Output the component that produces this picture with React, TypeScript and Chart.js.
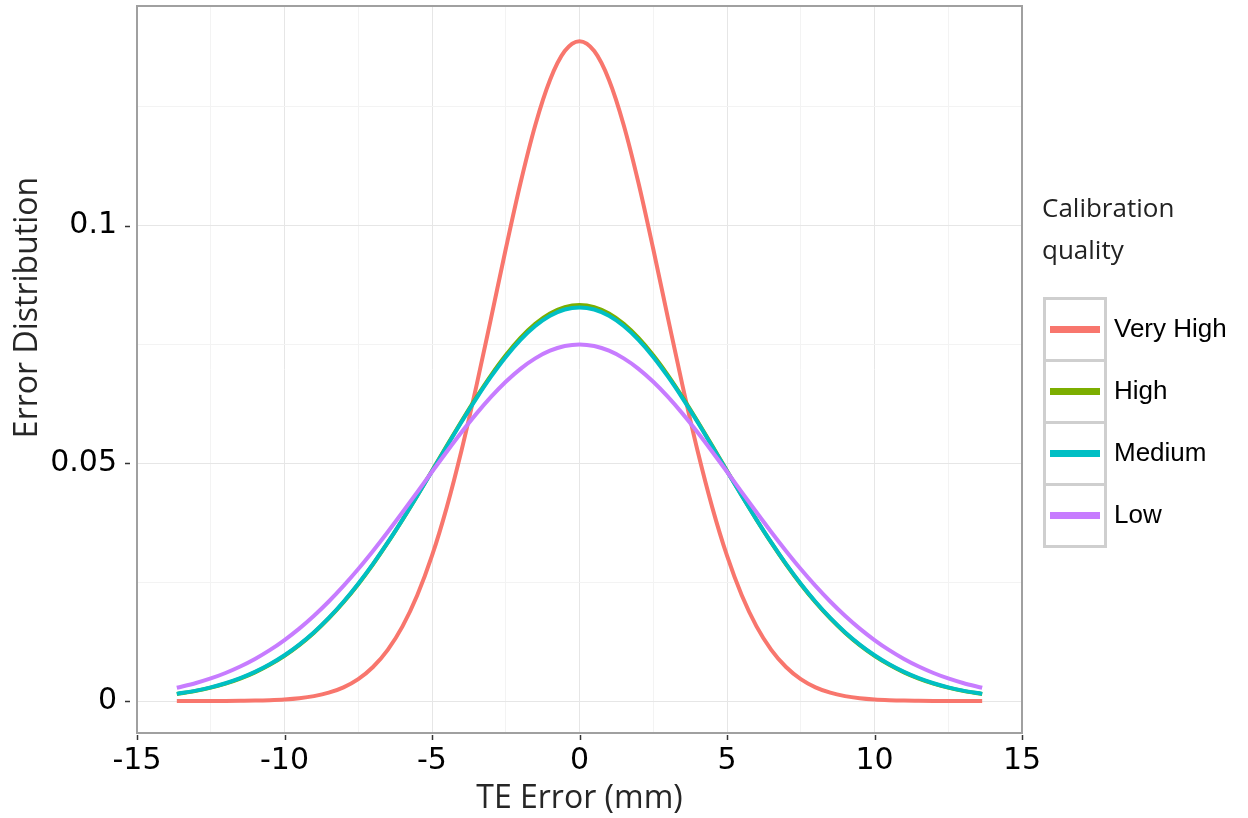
import React, { useEffect, useRef } from "react";
import { Chart, registerables } from "chart.js";

Chart.register(...registerables);

// TE Error (mm) sample positions
const xValues = [
  -13.65, -13, -12.5, -12, -11.5, -11, -10.5, -10, -9.5, -9, -8.5, -8, -7.5, -7, -6.5, -6, -5.5, -5, -4.5, -4, -3.5, -3, -2.5, -2, -1.5, -1, -0.5,
  0,
  0.5, 1, 1.5, 2, 2.5, 3, 3.5, 4, 4.5, 5, 5.5, 6, 6.5, 7, 7.5, 8, 8.5, 9, 9.5, 10, 10.5, 11, 11.5, 12, 12.5, 13, 13.65,
];

const veryHigh = [
  0, 0.000005, 0.00001, 0.00002, 0.00005, 0.00009, 0.00018, 0.00033, 0.00059, 0.00103, 0.00175, 0.00288, 0.00461, 0.00715, 0.01076, 0.0157, 0.02224, 0.03056, 0.04074, 0.05269, 0.06612, 0.0805, 0.09508, 0.10896, 0.12113, 0.13065, 0.13672,
  0.1388,
  0.13672, 0.13065, 0.12113, 0.10896, 0.09508, 0.0805, 0.06612, 0.05269, 0.04074, 0.03056, 0.02224, 0.0157, 0.01076, 0.00715, 0.00461, 0.00288, 0.00175, 0.00103, 0.00059, 0.00033, 0.00018, 0.00009, 0.00005, 0.00002, 0.00001, 0.000005, 0,
];

const high = [
  0.00146, 0.00213, 0.00281, 0.00366, 0.00472, 0.00603, 0.00762, 0.00951, 0.01175, 0.01436, 0.01737, 0.02077, 0.02458, 0.02876, 0.0333, 0.03814, 0.04321, 0.04842, 0.05368, 0.05886, 0.06385, 0.06852, 0.07273, 0.07637, 0.07933, 0.08151, 0.08285,
  0.0833,
  0.08285, 0.08151, 0.07933, 0.07637, 0.07273, 0.06852, 0.06385, 0.05886, 0.05368, 0.04842, 0.04321, 0.03814, 0.0333, 0.02876, 0.02458, 0.02077, 0.01737, 0.01436, 0.01175, 0.00951, 0.00762, 0.00603, 0.00472, 0.00366, 0.00281, 0.00213, 0.00146,
];

const medium = [
  0.0015, 0.00218, 0.00287, 0.00373, 0.0048, 0.00612, 0.00772, 0.00962, 0.01187, 0.01448, 0.01748, 0.02088, 0.02467, 0.02884, 0.03335, 0.03815, 0.04318, 0.04834, 0.05355, 0.05868, 0.06361, 0.06822, 0.07238, 0.07597, 0.07889, 0.08104, 0.08236,
  0.0828,
  0.08236, 0.08104, 0.07889, 0.07597, 0.07238, 0.06822, 0.06361, 0.05868, 0.05355, 0.04834, 0.04318, 0.03815, 0.03335, 0.02884, 0.02467, 0.02088, 0.01748, 0.01448, 0.01187, 0.00962, 0.00772, 0.00612, 0.0048, 0.00373, 0.00287, 0.00218, 0.0015,
];

const low = [
  0.00279, 0.00379, 0.00474, 0.00589, 0.00725, 0.00884, 0.01069, 0.01282, 0.01522, 0.01793, 0.02093, 0.02421, 0.02776, 0.03156, 0.03555, 0.0397, 0.04395, 0.04822, 0.05244, 0.05653, 0.0604, 0.06397, 0.06716, 0.06988, 0.07208, 0.07369, 0.07467,
  0.075,
  0.07467, 0.07369, 0.07208, 0.06988, 0.06716, 0.06397, 0.0604, 0.05653, 0.05244, 0.04822, 0.04395, 0.0397, 0.03555, 0.03156, 0.02776, 0.02421, 0.02093, 0.01793, 0.01522, 0.01282, 0.01069, 0.00884, 0.00725, 0.00589, 0.00474, 0.00379, 0.00279,
];

const seriesNames = ["Very High", "High", "Medium", "Low"];
const seriesColors = ["#F8766D", "#7CAE00", "#00BFC4", "#C77CFF"];
const seriesValues = [veryHigh, high, medium, low];

const xTickValues = [-15, -12.5, -10, -7.5, -5, -2.5, 0, 2.5, 5, 7.5, 10, 12.5, 15];
const xTickLabels = ["-15", "", "-10", "", "-5", "", "0", "", "5", "", "10", "", "15"];
const yTickValues = [0, 0.025, 0.05, 0.075, 0.1, 0.125];
const yTickLabels = ["0", "", "0.05", "", "0.1", ""];

const xTitle = "TE Error (mm)";
const yTitle = "Error Distribution";
const legendTitle = ["Calibration", "quality"];

const decorPlugin = {
  id: "decor",
  afterDraw(chart: any) {
    const ctx = chart.ctx as CanvasRenderingContext2D;
    const { left, right, top, bottom } = chart.chartArea;
    const xs = chart.scales.x;
    const ys = chart.scales.y;
    ctx.save();

    // panel border
    ctx.strokeStyle = "#a0a0a0";
    ctx.lineWidth = 2;
    ctx.strokeRect(left, top, right - left, bottom - top);

    // tick marks (major only)
    ctx.strokeStyle = "#333";
    ctx.lineWidth = 1.5;
    xTickValues.forEach((v, i) => {
      if (!xTickLabels[i]) return;
      const px = Math.round(xs.getPixelForValue(v)) + 0.5;
      ctx.beginPath();
      ctx.moveTo(px, bottom + 2);
      ctx.lineTo(px, bottom + 7);
      ctx.stroke();
    });
    yTickValues.forEach((v, i) => {
      if (!yTickLabels[i]) return;
      const py = Math.round(ys.getPixelForValue(v)) + 0.5;
      ctx.beginPath();
      ctx.moveTo(left - 12, py);
      ctx.lineTo(left - 7, py);
      ctx.stroke();
    });

    // axis titles
    ctx.fillStyle = "#262626";
    ctx.font = "32px 'Open Sans'";
    ctx.textAlign = "center";
    ctx.textBaseline = "alphabetic";
    ctx.fillText(xTitle, (left + right) / 2, 808);
    ctx.save();
    ctx.translate(37, (top + bottom) / 2 - 62);
    ctx.rotate(-Math.PI / 2);
    ctx.fillText(yTitle, 0, 0);
    ctx.restore();

    // legend
    ctx.textAlign = "left";
    ctx.fillStyle = "#222";
    ctx.font = "26px 'Open Sans'";
    ctx.fillText(legendTitle[0], 1042, 217);
    ctx.fillText(legendTitle[1], 1042, 259);

    const boxX = 1044.5;
    const boxY = 298.5;
    const boxW = 61;
    const boxH = 62;
    chart.data.datasets.forEach((ds: any, i: number) => {
      const y0 = boxY + i * boxH;
      ctx.strokeStyle = "#cfcfcf";
      ctx.lineWidth = 3;
      ctx.strokeRect(boxX, y0, boxW, boxH);
      const cy = y0 + boxH / 2;
      ctx.strokeStyle = ds.borderColor;
      ctx.lineWidth = 7;
      ctx.lineCap = "butt";
      ctx.beginPath();
      ctx.moveTo(1050, cy);
      ctx.lineTo(1100, cy);
      ctx.stroke();
      ctx.fillStyle = "#000";
      ctx.font = "26px 'Liberation Sans'";
      ctx.textBaseline = "middle";
      ctx.fillText(ds.label, 1114, cy);
      ctx.textBaseline = "alphabetic";
    });

    ctx.restore();
  },
};

export default function App() {
  const ref = useRef<HTMLCanvasElement>(null);

  useEffect(() => {
    const datasets = seriesNames.map((name, si) => ({
      label: name,
      data: xValues.map((x, i) => ({ x, y: seriesValues[si][i] })),
      borderColor: seriesColors[si],
      backgroundColor: seriesColors[si],
      borderWidth: 4,
      pointRadius: 0,
      fill: false,
      cubicInterpolationMode: "monotone" as const,
      order: seriesNames.length - si,
    }));

    const chart = new Chart(ref.current as HTMLCanvasElement, {
      type: "line",
      data: { datasets },
      options: {
        responsive: false,
        animation: false,
        layout: { padding: { top: 6, right: 226, left: 0, bottom: 0 } },
        plugins: { legend: { display: false }, tooltip: { enabled: false } },
        scales: {
          x: {
            type: "linear",
            min: -15,
            max: 15,
            afterBuildTicks: (s: any) => {
              s.ticks = xTickValues.map((v) => ({ value: v }));
            },
            afterFit: (s: any) => {
              s.height = 85;
              s.paddingLeft = 0;
              s.paddingRight = 0;
              s.paddingTop = 0;
              s.paddingBottom = 0;
            },
            grid: {
              drawTicks: false,
              lineWidth: 1,
              color: (c: any) => {
                const v = c.tick ? c.tick.value : 0;
                const idx = xTickValues.indexOf(v);
                return idx >= 0 && xTickLabels[idx] ? "#e6e6e6" : "#f3f3f3";
              },
            },
            border: { display: false },
            ticks: {
              autoSkip: false,
              maxRotation: 0,
              padding: 10,
              color: "#000",
              font: { family: "'DejaVu Sans'", size: 30 },
              callback: (_v: any, i: number) => xTickLabels[i],
            },
          },
          y: {
            type: "linear",
            min: -0.00673,
            max: 0.1462,
            afterBuildTicks: (s: any) => {
              s.ticks = yTickValues.map((v) => ({ value: v }));
            },
            afterFit: (s: any) => {
              s.width = 137;
              s.paddingLeft = 0;
              s.paddingRight = 0;
              s.paddingTop = 0;
              s.paddingBottom = 0;
            },
            grid: {
              drawTicks: false,
              lineWidth: 1,
              color: (c: any) => {
                const v = c.tick ? c.tick.value : 0;
                const idx = yTickValues.indexOf(v);
                return idx >= 0 && yTickLabels[idx] ? "#e6e6e6" : "#f3f3f3";
              },
            },
            border: { display: false },
            ticks: {
              autoSkip: false,
              padding: 20,
              color: "#000",
              font: { family: "'DejaVu Sans'", size: 30 },
              callback: (_v: any, i: number) => yTickLabels[i],
            },
          },
        },
      },
      plugins: [decorPlugin],
    });
    return () => chart.destroy();
  }, []);

  return (
    <div style={{ position: "absolute", left: 0, top: 0, width: 1248, height: 818, background: "#fff" }}>
      <canvas ref={ref} width={1248} height={818} style={{ display: "block", width: 1248, height: 818 }} />
    </div>
  );
}
